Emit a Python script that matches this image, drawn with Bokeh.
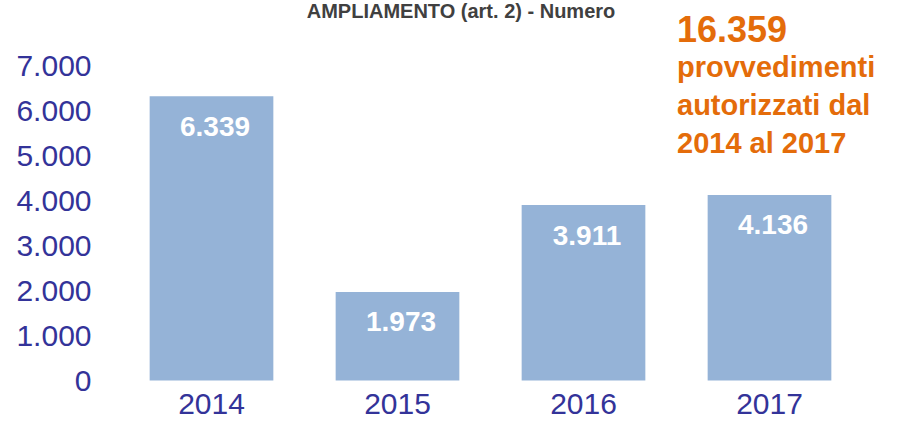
from bokeh.plotting import figure
from bokeh.models import (ColumnDataSource, FactorRange, Range1d, FixedTicker,
                          CustomJSTickFormatter, Label)
from bokeh.core.properties import value
from bokeh.embed import file_html
from bokeh.resources import INLINE

# ---- data ----
years = ["2014", "2015", "2016", "2017"]
counts = [6339, 1973, 3911, 4136]
y_ticks = [0, 1000, 2000, 3000, 4000, 5000, 6000, 7000]
title_text = "AMPLIAMENTO (art. 2) - Numero"
note_lines = ["provvedimenti", "autorizzati dal", "2014 al 2017"]


def fmt(n):
    return f"{n:,}".replace(",", ".")


total_label = fmt(sum(counts))

# ---- layout constants ----
W, H = 881, 421
PX_PER_UNIT = 0.04486     # pixels per unit on the value axis
BASE = 380                # canvas pixel (from top) of the zero line
CAT_PX = 186              # pixels per category
PAD_PX = 19               # empty space left of first / right of last category
y_start = -(H - BASE) / PX_PER_UNIT
y_end = BASE / PX_PER_UNIT


def y_at(canvas_px):
    """value-axis coordinate of a canvas row (pixels from top)"""
    return (BASE - canvas_px) / PX_PER_UNIT


FONT = "Liberation Sans"
AXIS_COLOR = "#333399"
BAR_COLOR = "#95B3D7"
ORANGE = "#E46C0A"

src = ColumnDataSource(dict(year=years, count=counts,
                            label=[fmt(c) for c in counts]))

p = figure(width=W, height=H,
           x_range=FactorRange(factors=years, range_padding=PAD_PX / CAT_PX,
                               range_padding_units="absolute", factor_padding=0),
           y_range=Range1d(y_start, y_end),
           output_backend="svg", toolbar_location=None,
           min_border_left=99, min_border_right=0,
           min_border_top=0, min_border_bottom=0)

p.outline_line_color = None
p.xgrid.grid_line_color = None
p.ygrid.grid_line_color = None
p.background_fill_color = "white"
p.border_fill_color = "white"

# bars
p.vbar(x="year", top="count", width=0.665, source=src,
       fill_color=BAR_COLOR, line_color=None)

# value labels inside bars
p.text(x="year", y="count", text="label", source=src,
       text_color="white", text_font=value(FONT), text_font_style="bold",
       text_font_size="28px", text_align="center", text_baseline="alphabetic",
       x_offset=3.5, y_offset=30)

# y axis
ya = p.yaxis[0]
ya.ticker = FixedTicker(ticks=y_ticks)
ya.formatter = CustomJSTickFormatter(
    code="return Math.round(tick).toString().replace(/\\B(?=(\\d{3})+(?!\\d))/g, '.');")
ya.axis_line_color = None
ya.major_tick_line_color = None
ya.minor_tick_line_color = None
ya.major_tick_out = 0
ya.major_tick_in = 0
ya.major_label_standoff = 8
ya.major_label_text_font = FONT
ya.major_label_text_font_size = "30px"
ya.major_label_text_color = AXIS_COLOR

# x axis drawn at zero line
xa = p.xaxis[0]
xa.fixed_location = 0
xa.axis_line_color = None
xa.major_tick_line_color = None
xa.minor_tick_line_color = None
xa.major_tick_out = 0
xa.major_tick_in = 0
xa.major_label_standoff = 13
xa.major_label_text_font = FONT
xa.major_label_text_font_size = "30px"
xa.major_label_text_color = AXIS_COLOR

# title (cut off at the top in the reference; kept fully visible here)
p.add_layout(Label(x=years.index("2015") + 0.5, x_offset=63.5, y=y_at(10),
                   text=title_text, text_font=FONT, text_font_style="bold",
                   text_font_size="20px", text_color="#404040",
                   text_align="center", text_baseline="alphabetic"))

# orange annotation
x_note = years.index("2017") + 0.5
p.add_layout(Label(x=x_note, x_offset=-92.5, y=y_at(28), text=total_label,
                   text_font=FONT, text_font_style="bold", text_font_size="36px",
                   text_color=ORANGE, text_align="left", text_baseline="alphabetic"))
for i, line in enumerate(note_lines):
    p.add_layout(Label(x=x_note, x_offset=-92.5, y=y_at(66 + 38 * i), text=line,
                       text_font=FONT, text_font_style="bold", text_font_size="29px",
                       text_color=ORANGE, text_align="left",
                       text_baseline="alphabetic"))

open("out.html", "w").write(file_html(p, INLINE))
